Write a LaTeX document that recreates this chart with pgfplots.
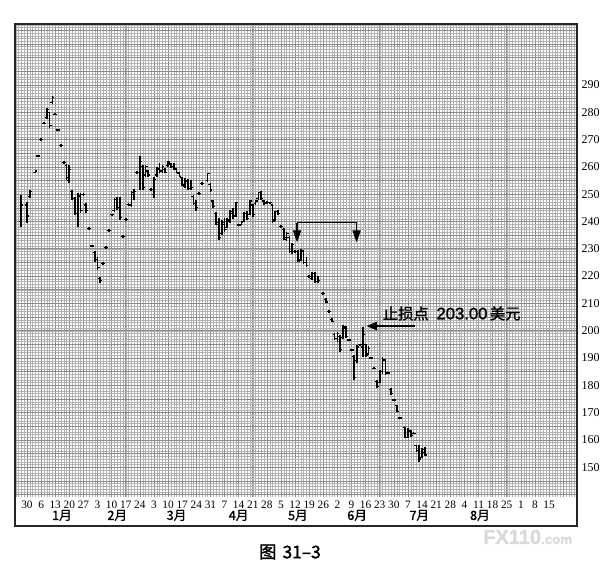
\documentclass[border=0pt]{standalone}
\usepackage{pgfplots}
\pgfplotsset{compat=1.18}
\usepackage{pgfplotstable}
\usepackage{fontspec}
\setmainfont{Liberation Serif}
\newfontfamily\cjk{Noto Sans CJK SC}
\newfontfamily\cjkb[FakeBold=1.5]{Noto Sans CJK SC}
\newfontfamily\arial[FakeBold=1.2]{Liberation Sans}
\usetikzlibrary{arrows.meta}

% open tick (left) and close tick (right) of a daily bar
\pgfdeclareplotmark{opentick}{\pgfpathmoveto{\pgfqpoint{-\pgfplotmarksize}{0pt}}\pgfpathlineto{\pgfqpoint{0pt}{0pt}}\pgfusepathqstroke}
\pgfdeclareplotmark{closetick}{\pgfpathmoveto{\pgfqpoint{0pt}{0pt}}\pgfpathlineto{\pgfqpoint{\pgfplotmarksize}{0pt}}\pgfusepathqstroke}

% d = trading day (0 = 30 Dec), high, low, open, close
\pgfplotstableread{
d   h     l     o     c
-2  249.7 238.0 240.0 246.0
0   247.1 239.4 246.0 242.0
1   251.5 248.6 249.0 251.0
3   258.8 257.8 258.0 258.5
4   264.5 263.5 264.0 264.0
5   270.6 269.6 270.0 270.0
6   276.5 275.5 276.0 276.0
7   281.7 277.5 278.0 281.0
8   280.2 274.1 280.0 275.0
9   286.1 283.1 283.5 285.5
10  279.8 278.8 279.3 279.3
11  274.0 273.0 273.5 273.5
12  268.2 267.2 267.7 267.7
13  262.2 261.2 261.7 261.7
14  261.0 255.2 260.5 256.0
15  260.7 254.1 255.0 259.0
16  251.5 247.9 251.0 248.5
17  249.1 242.4 248.5 243.0
18  250.4 238.0 243.0 249.0
19  250.4 243.1 249.5 244.0
20  250.5 249.5 250.0 250.0
21  246.7 243.1 246.0 244.0
22  238.0 237.0 237.5 237.5
23  231.5 230.5 231.0 231.0
24  229.0 225.3 228.5 226.0
25  227.1 222.2 226.0 223.0
26  219.8 217.6 219.0 218.5
27  225.2 224.2 224.7 224.7
28  230.9 229.9 230.4 230.4
29  237.2 236.2 236.7 236.7
30  242.9 241.9 242.4 242.4
31  248.6 243.5 244.0 248.0
32  249.1 244.2 248.0 245.0
33  249.1 240.5 245.0 241.5
34  235.0 234.0 234.5 234.5
35  241.1 240.1 240.6 240.6
36  246.8 245.8 246.3 246.3
37  251.1 245.4 246.0 250.5
38  252.0 247.9 250.0 251.0
39  258.5 257.5 258.0 258.0
40  263.8 251.5 258.0 262.0
41  260.7 251.5 260.0 252.5
42  260.7 256.4 257.0 260.0
43  258.9 256.4 258.5 257.0
44  252.2 251.2 251.7 251.7
45  256.4 248.5 250.0 255.5
46  260.1 256.4 257.0 259.5
47  261.4 257.7 259.0 258.5
48  260.7 257.7 258.5 260.0
49  259.6 257.7 259.0 258.0
50  262.2 260.1 260.5 261.8
51  261.4 259.6 261.0 260.0
52  261.4 258.9 260.0 259.5
53  259.6 257.7 259.0 258.0
54  258.1 256.3 257.5 256.5
55  256.4 252.8 256.0 253.5
56  255.9 252.3 253.0 255.0
57  255.6 251.5 254.5 252.0
58  255.2 251.5 252.0 252.5
59  249.7 246.0 249.0 246.5
60  247.9 244.0 246.5 245.0
61  250.8 249.8 250.3 250.3
62  254.5 253.5 254.0 254.0
64  257.8 254.6 255.0 257.5
65  254.0 250.9 253.5 251.5
66  247.9 244.8 247.5 245.5
67  243.6 238.7 243.0 239.5
68  241.3 233.2 239.0 234.0
69  240.5 235.0 235.5 239.5
70  241.3 236.0 239.0 237.0
71  241.3 237.6 237.8 240.5
72  244.2 239.5 240.0 243.5
73  245.0 241.0 243.0 242.0
74  247.3 241.8 242.0 247.0
75  239.2 238.2 238.7 238.7
76  240.0 238.7 239.0 239.5
77  243.6 239.8 240.0 243.0
78  244.0 240.5 243.0 241.0
79  247.9 242.4 242.5 247.5
80  246.5 241.5 246.0 242.5
81  247.9 246.0 246.5 247.5
82  250.9 248.0 248.5 250.5
83  251.0 247.9 250.5 248.5
84  247.9 246.0 247.5 246.5
85  247.5 246.5 247.0 247.0
86  247.3 246.3 246.8 246.8
87  246.1 239.4 246.0 240.0
88  244.0 240.0 240.5 243.5
89  244.2 242.4 243.5 242.8
90  238.6 237.6 238.1 238.1
91  237.6 233.2 237.0 233.5
92  236.0 233.0 234.0 235.5
93  234.5 228.4 234.0 229.0
94  232.0 228.0 229.0 231.5
95  229.5 228.5 229.0 229.0
96  229.6 225.0 229.0 225.5
97  230.0 225.5 226.0 229.5
98  229.6 224.5 229.0 225.0
99  227.1 223.5 225.0 224.0
100 220.3 219.3 219.8 219.8
101 221.6 218.5 219.0 221.0
102 221.6 217.4 221.0 218.0
103 220.0 217.4 218.0 218.5
105 214.2 213.2 213.7 213.7
106 212.0 210.0 211.5 210.5
107 207.5 206.5 207.0 207.0
108 204.5 203.3 204.0 203.5
109 199.0 196.5 198.5 197.0
110 199.5 196.0 197.0 199.0
111 198.4 192.3 198.0 193.0
112 202.0 197.0 197.5 201.5
113 201.8 197.5 201.0 198.0
114 197.1 196.1 196.6 196.6
115 193.4 192.4 192.9 192.9
116 191.1 181.9 190.5 183.0
117 194.8 188.2 189.0 194.0
118 195.3 194.3 194.8 194.8
119 201.5 190.4 194.0 198.5
120 195.3 190.4 195.0 191.0
121 194.5 191.0 191.5 193.5
122 190.5 189.5 190.0 190.0
123 186.8 185.8 186.3 186.3
124 181.9 178.9 181.5 179.5
125 185.6 180.8 181.0 185.0
126 190.5 184.0 185.0 189.5
127 189.5 183.8 189.0 184.5
128 185.0 184.0 184.5 184.5
129 179.0 176.6 178.5 177.0
130 175.1 174.1 174.6 174.6
131 172.8 170.3 172.5 170.5
132 168.5 167.5 168.0 168.0
134 164.8 160.6 164.5 161.0
135 164.2 160.6 161.0 163.5
136 163.5 161.0 163.0 161.5
137 163.0 162.0 162.5 162.5
138 158.1 155.6 158.0 156.0
139 158.1 152.0 156.0 153.0
140 157.0 153.5 153.5 156.5
141 157.5 154.0 155.5 154.5
}\ohlc

\begin{document}
\begin{tikzpicture}
\begin{axis}[
  scale only axis,
  width=421.5pt, height=354.75pt,
  xmin=-4.25, xmax=194.9,
  ymin=139.1, ymax=312.3,
  clip=false,
  axis line style={draw=none},
  xtick={0,5,...,190},
  xticklabels={30,6,13,20,27,3,10,17,24,3,10,17,24,31,7,14,21,28,5,12,19,26,2,9,16,23,30,7,14,21,28,4,11,18,25,1,8,15,{}},
  minor xtick={-4,-3,...,194},
  ytick={140,145,...,310},
  yticklabels={{},{},150,{},160,{},170,{},180,{},190,{},200,{},210,{},220,{},230,{},240,{},250,{},260,{},270,{},280,{},290,{},{},{},{}},
  minor ytick={140,141,...,312},
  yticklabel pos=right,
  major tick length=0pt, minor tick length=0pt,
  grid=both,
  minor grid style={black!30, line width=0.25pt},
  major grid style={black!45, line width=0.4pt},
  xticklabel style={font=\fontsize{8.5}{9}\selectfont, inner sep=1pt, yshift=-1.5pt},
  yticklabel style={font=\fontsize{9}{10}\selectfont},
  extra x ticks={12.4,32,53,75,96,117,139,160.5},
  extra x tick labels={1月,2月,3月,4月,5月,6月,7月,8月},
  extra x tick style={grid=none, xticklabel style={font=\cjkb\fontsize{9.5}{10}\selectfont, yshift=-7pt}},
]
% high-low bars
\addplot[draw=none, mark=none,
  error bars/.cd, y dir=plus, y explicit, error mark=none,
  error bar style={draw=black, line width=1.3pt}]
  table[x=d, y=l, y error plus expr=\thisrow{h}-\thisrow{l}] {\ohlc};
% open and close ticks
\addplot[only marks, mark=opentick, mark size=1.5pt, line width=0.9pt, black]
  table[x=d, y=o] {\ohlc};
\addplot[only marks, mark=closetick, mark size=1.5pt, line width=0.9pt, black]
  table[x=d, y=c] {\ohlc};

% frame round grid and date band
\draw[black!85, line width=1.1pt] (axis description cs:0,-0.06131) rectangle (axis description cs:1,1);

% bracket with two arrows
\draw[line width=1.2pt] (axis cs:95.7,239.6) -- (axis cs:116.8,239.6);
\draw[line width=1.2pt, -{Triangle[length=9pt,width=6pt]}] (axis cs:95.7,239.6) -- (axis cs:95.7,232.3);
\draw[line width=1.2pt, -{Triangle[length=9pt,width=6pt]}] (axis cs:116.8,239.6) -- (axis cs:116.8,232.3);

% stop annotation
\draw[line width=1.5pt, -{Triangle[length=8pt,width=6pt]}] (axis cs:137.5,201.7) -- (axis cs:120.2,201.7);
\node[anchor=west, inner sep=0pt] at (axis cs:126,206.3)
  {\fontsize{11.5}{13}\selectfont\cjkb 止损点\hspace{0.5em}{\arial\fontsize{12.5}{13}\selectfont 203.00}\hspace{0.15em}美元};

% caption and watermark
\node at (axis description cs:0.4893,-0.1163) {\cjkb\fontsize{13}{15}\selectfont 图\hspace{0.35em}31–3};
\node[anchor=west, inner sep=0pt, text=black!15] at (axis description cs:0.8327,-0.0846)
  {\arial\bfseries\fontsize{15}{15}\selectfont FX110{\fontsize{10}{10}\selectfont .com}};

% page extent
\path (axis description cs:-0.02669,-0.17125) rectangle (axis description cs:1.05516,1.05074);
\end{axis}
\end{tikzpicture}
\end{document}
